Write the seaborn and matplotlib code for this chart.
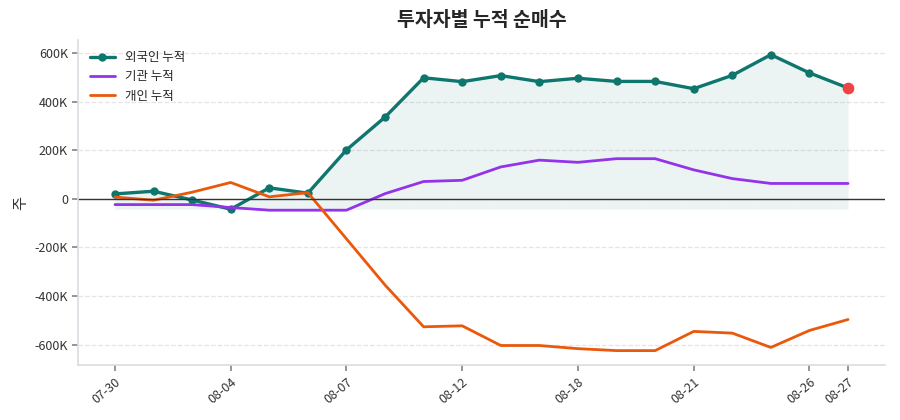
import numpy as np
import pandas as pd
import matplotlib
matplotlib.use("Agg")
import matplotlib.pyplot as plt
from matplotlib.ticker import FuncFormatter
import seaborn as sns


dates = ["07-30", "07-31", "08-01", "08-04", "08-05", "08-06", "08-07", "08-08", "08-11", "08-12",
         "08-13", "08-14", "08-18", "08-19", "08-20", "08-21", "08-22", "08-25", "08-26", "08-27"]
foreign = [20, 31, -5, -43, 45, 23, 201, 336, 498, 482,
           507, 482, 496, 483, 483, 453, 508, 593, 518, 456]
institution = [-24, -24, -24, -36, -47, -47, -47, 21, 71, 76,
               131, 159, 150, 165, 165, 119, 83, 63, 63, 63]
individual = [7, -6, 27, 67, 8, 25, -165, -355, -527, -523,
              -604, -604, -617, -625, -625, -546, -553, -612, -542, -497]
tick_dates = ["07-30", "08-04", "08-07", "08-12", "08-18", "08-21", "08-26", "08-27"]

df = pd.DataFrame({
    "date": dates,
    "foreign": np.array(foreign) * 1000,
    "institution": np.array(institution) * 1000,
    "individual": np.array(individual) * 1000,
})
df["pos"] = np.arange(len(df))

sns.set_theme(style="white")
plt.rcParams["font.family"] = ["Noto Sans CJK KR", "DejaVu Sans"]
plt.rcParams["axes.unicode_minus"] = False

fig, ax = plt.subplots(figsize=(9, 4.2), dpi=100)

ax.fill_between(df["pos"], df["foreign"], df["foreign"].min(), color="#0f766e", alpha=0.08, lw=0)
sns.lineplot(data=df, x="pos", y="foreign", ax=ax, color="#0f766e", lw=2.4,
             marker="o", markersize=6, markeredgewidth=0, label="외국인 누적")
sns.lineplot(data=df, x="pos", y="institution", ax=ax, color="#9333ea", lw=2, label="기관 누적")
sns.lineplot(data=df, x="pos", y="individual", ax=ax, color="#ea580c", lw=2, label="개인 누적")
ax.scatter(df["pos"].iloc[-1], df["foreign"].iloc[-1], s=55, color="#ef4444", zorder=5)
ax.axhline(0, color="#333333", lw=1)

ax.set_title("투자자별 누적 순매수", fontsize=14, fontweight="bold", pad=10)
ax.set_xlabel("")
ax.set_ylabel("주", fontsize=11, color="#333333")
ax.yaxis.set_major_formatter(FuncFormatter(lambda v, p: "0" if v == 0 else f"{int(round(v / 1000))}K"))

tick_pos = [dates.index(d) for d in tick_dates]
ax.set_xticks(tick_pos)
ax.set_xticklabels(tick_dates, rotation=40, ha="right", rotation_mode="anchor")
ax.tick_params(axis="both", labelsize=9, colors="#333333", length=4, color="#888888", bottom=True, left=True)

ax.grid(axis="y", linestyle="--", color="#e5e5e5", lw=0.9)
sns.despine(ax=ax)
for s in ["left", "bottom"]:
    ax.spines[s].set_color("#d9dce3")
    ax.spines[s].set_linewidth(1.2)

ax.legend(loc="upper left", frameon=False, fontsize=9)

plt.subplots_adjust(left=0.087, right=0.983, top=0.905, bottom=0.13)
plt.savefig("out.png")
plt.close()
